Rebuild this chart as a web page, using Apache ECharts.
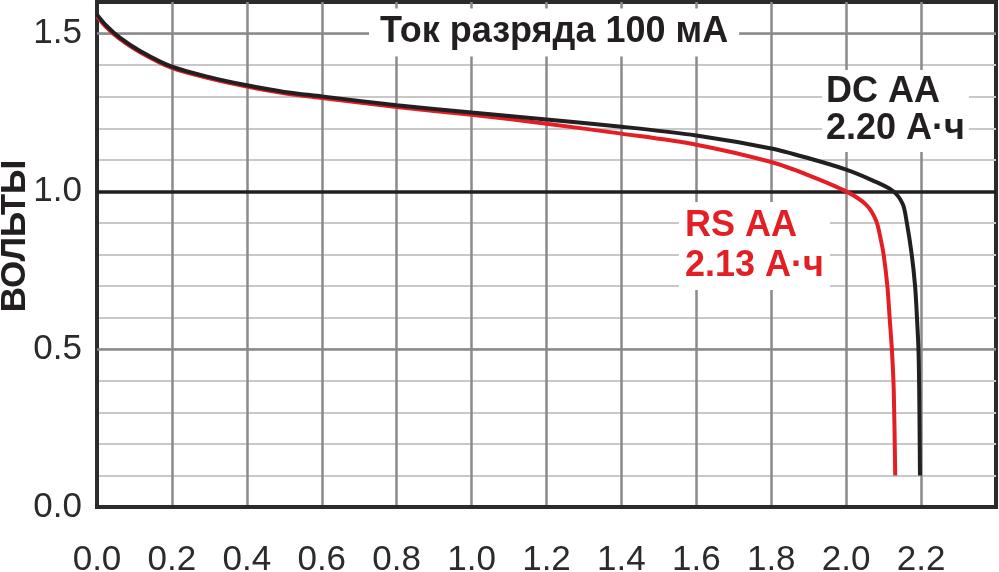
<!DOCTYPE html>
<html>
<head>
<meta charset="utf-8">
<script src="https://cdn.jsdelivr.net/npm/echarts@6/dist/echarts.min.js"></script>
<style>
  html, body { margin: 0; padding: 0; background: #fff; }
  #chart { width: 999px; height: 572px; }
</style>
</head>
<body>
<div id="chart"></div>
<script>
// discharge capacity, A*h  /  volts
var dcCapacity = [0, 0.025, 0.06, 0.115, 0.2, 0.3, 0.4, 0.5, 0.6, 0.8, 1.0, 1.2, 1.4, 1.6, 1.8, 1.9, 2.0, 2.07, 2.124, 2.151, 2.162, 2.175, 2.184, 2.189, 2.193, 2.195, 2.197];
var dcVolts    = [1.56, 1.525, 1.488, 1.445, 1.395, 1.362, 1.336, 1.315, 1.301, 1.273, 1.250, 1.228, 1.205, 1.177, 1.136, 1.105, 1.069, 1.035, 1.002, 0.96, 0.90, 0.80, 0.70, 0.60, 0.50, 0.37, 0.10];

var rsCapacity = [0, 0.025, 0.06, 0.115, 0.2, 0.3, 0.4, 0.5, 0.6, 0.8, 1.0, 1.2, 1.4, 1.6, 1.8, 1.9, 2.0, 2.053, 2.08, 2.093, 2.100, 2.110, 2.116, 2.122, 2.127, 2.131];
var rsVolts    = [1.555, 1.52, 1.484, 1.441, 1.391, 1.358, 1.332, 1.311, 1.296, 1.267, 1.243, 1.214, 1.183, 1.148, 1.093, 1.051, 1.0, 0.958, 0.907, 0.844, 0.80, 0.70, 0.60, 0.50, 0.37, 0.10];

var refLines = [0.5, 1.0, 1.5];

var FONT = '"Liberation Sans", Arial, sans-serif';

function pairs(xs, ys) {
    return xs.map(function (x, i) { return [x, ys[i]]; });
}

var chart = echarts.init(document.getElementById('chart'), null, { renderer: 'canvas' });

var option = {
    animation: false,
    backgroundColor: '#fff',
    title: [
        {
            text: 'Ток разряда 100 мА',
            left: 369, top: 9,
            padding: [6, 11],
            backgroundColor: '#fff',
            textStyle: { fontFamily: FONT, fontSize: 36, fontWeight: 'bold', color: '#231f20', lineHeight: 35 }
        },
        {
            text: 'DC AA\n2.20 А·ч',
            left: 822, top: 70,
            padding: [4, 4],
            backgroundColor: '#fff',
            textStyle: { fontFamily: FONT, fontSize: 36, fontWeight: 'bold', color: '#231f20', lineHeight: 37 }
        },
        {
            text: 'RS AA\n2.13 А·ч',
            left: 679, top: 202,
            padding: [4, 6],
            backgroundColor: '#fff',
            textStyle: { fontFamily: FONT, fontSize: 36, fontWeight: 'bold', color: '#e31e24', lineHeight: 40 }
        }
    ],
    graphic: [{
        type: 'text',
        x: 15, y: 236,
        rotation: Math.PI / 2,
        style: {
            text: 'ВОЛЬТЫ',
            font: 'bold 35px ' + FONT,
            fill: '#231f20',
            align: 'center',
            verticalAlign: 'middle'
        }
    }],
    grid: {
        left: 97, right: 3, top: 2, bottom: 65,
        outerBoundsMode: 'none',
        containLabel: false,
        show: true,
        borderColor: '#2b2b2b',
        borderWidth: 4
    },
    xAxis: {
        type: 'value',
        min: 0, max: 2.4, interval: 0.2,
        axisLine: { show: true, lineStyle: { color: '#2b2b2b', width: 4 } },
        axisTick: { show: false },
        axisLabel: {
            margin: 36,
            fontFamily: FONT, fontSize: 35, color: '#2b2b2b',
            showMaxLabel: false,
            formatter: function (v) { return v > 2.3 ? '' : v.toFixed(1); }
        },
        splitLine: {
            show: true, showMinLine: false, showMaxLine: false,
            lineStyle: { color: '#8a8a8a', width: 2.5 }
        }
    },
    yAxis: {
        type: 'value',
        min: 0, max: 1.6, interval: 0.1,
        axisLine: { show: true, lineStyle: { color: '#2b2b2b', width: 4 } },
        axisTick: { show: false },
        axisLabel: {
            margin: 15,
            fontFamily: FONT, fontSize: 35, color: '#2b2b2b',
            formatter: function (v) {
                return Math.abs(v * 2 - Math.round(v * 2)) < 1e-6 ? v.toFixed(1) : '';
            }
        },
        splitLine: {
            show: true, showMinLine: false, showMaxLine: false,
            lineStyle: { color: '#c8c8c8', width: 2 }
        }
    },
    series: [
        {
            name: 'RS AA',
            type: 'line',
            data: pairs(rsCapacity, rsVolts),
            smooth: 0.3,
            showSymbol: false,
            z: 3,
            lineStyle: { color: '#e31e24', width: 4 },
            markLine: {
                silent: true,
                symbol: 'none',
                z: 1,
                label: { show: false },
                data: refLines.map(function (v) {
                    return {
                        yAxis: v,
                        lineStyle: v === 1.0
                            ? { color: '#231f20', width: 3.5, type: 'solid' }
                            : { color: '#8a8a8a', width: 2.5, type: 'solid' }
                    };
                })
            }
        },
        {
            name: 'DC AA',
            type: 'line',
            data: pairs(dcCapacity, dcVolts),
            smooth: 0.3,
            showSymbol: false,
            z: 4,
            lineStyle: { color: '#231f20', width: 4 }
        }
    ]
};

chart.setOption(option);
</script>
</body>
</html>
